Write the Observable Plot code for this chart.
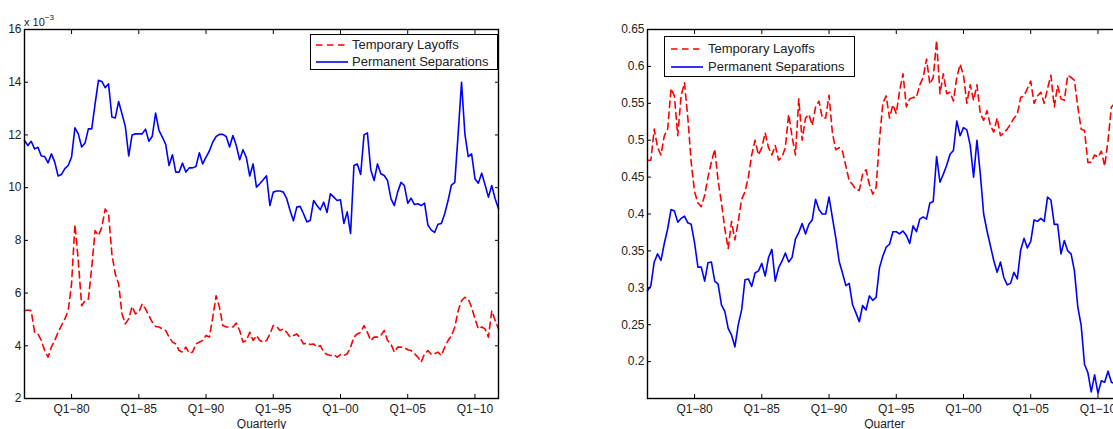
<!DOCTYPE html>
<html>
<head>
<meta charset="utf-8">
<script src="https://cdn.jsdelivr.net/npm/d3@7"></script>
<script src="https://cdn.jsdelivr.net/npm/@observablehq/plot@0.6"></script>
<style>
  html, body { margin: 0; padding: 0; background: #fff; overflow: hidden; }
  #page { position: relative; width: 1113px; height: 429px; overflow: hidden;
          font-family: "Liberation Sans", Arial, Helvetica, sans-serif; color: #222; }
  .panel { position: absolute; top: 0; }
  .legend { position: absolute; background: #fff; border: 1px solid #000; box-sizing: border-box;
            font-size: 13px; color: #222; }
  .legend .row { position: absolute; left: 0; height: 16px; line-height: 16px; white-space: nowrap; }
  .legend svg { position: absolute; top: 0; }
  .legend span { position: absolute; top: 0; }
  .exp { position: absolute; left: 24px; top: 12px; font-size: 11px; line-height: 13px; color: #222; }
  .exp sup { font-size: 8px; position: relative; top: -1px; }
</style>
</head>
<body>
<div id="page"></div>
<script>
// Quarterly series, first observation 1976 Q3, one value per quarter.
const firstYear = 1976;
const firstQuarter = 3;

// Left panel: flow rates (x 10^-3)
const tempLayoffsRate = [
  5.33, 5.36, 5.33, 4.51, 4.45, 4.2, 3.82, 3.57, 3.95, 4.2,
  4.51, 4.77, 5.02, 5.33, 6.35, 8.6, 7.23, 5.52, 5.71, 5.77,
  6.98, 8.37, 8.18, 8.5, 9.19, 9.0, 7.48, 6.72, 6.35, 5.21,
  4.83, 5.02, 5.49, 5.21, 5.27, 5.59, 5.4, 5.15, 4.9, 4.73,
  4.71, 4.64, 4.58, 4.33, 4.14, 4.07, 3.82, 3.76, 3.95, 3.72,
  3.76, 4.07, 4.14, 4.2, 4.39, 4.33, 5.08, 5.9, 5.46, 4.77,
  4.71, 4.71, 4.71, 4.86, 4.58, 4.14, 4.2, 4.51, 4.2, 4.39,
  4.2, 4.14, 4.2, 4.45, 4.77, 4.73, 4.58, 4.64, 4.51, 4.33,
  4.39, 4.45, 4.3, 4.07, 4.1, 4.05, 4.07, 3.95, 4.01, 3.76,
  3.67, 3.63, 3.67, 3.57, 3.67, 3.63, 3.7, 3.95, 4.33, 4.45,
  4.51, 4.77, 4.51, 4.2, 4.33, 4.33, 4.39, 4.58, 4.2, 4.07,
  3.76, 3.95, 3.95, 3.93, 3.85, 3.82, 3.7, 3.57, 3.38, 3.7,
  3.82, 3.67, 3.7, 3.76, 3.63, 3.95, 4.2, 4.39, 4.71, 5.33,
  5.71, 5.84, 5.77, 5.46, 5.02, 4.64, 4.71, 4.64, 4.33, 5.33,
  4.96, 4.64
];
const permSeparationsRate = [
  11.79, 11.6, 11.76, 11.47, 11.53, 11.2, 11.18, 10.94, 11.28, 10.97,
  10.44, 10.5, 10.72, 10.84, 11.16, 12.27, 12.04, 11.54, 11.69, 12.23,
  12.23, 13.18, 14.07, 14.03, 13.79, 13.94, 12.68, 12.64, 13.27, 12.8,
  12.32, 11.2, 12.0, 12.04, 12.04, 12.04, 12.22, 11.76, 11.95, 12.83,
  12.17, 11.92, 11.64, 10.84, 11.25, 10.59, 10.59, 10.93, 10.59, 10.75,
  10.75, 10.8, 11.32, 10.9, 11.16, 11.39, 11.73, 11.94, 12.02, 12.02,
  11.94, 11.54, 11.98, 11.6, 11.06, 11.44, 11.14, 10.44, 10.9, 10.02,
  10.15, 10.3, 10.45, 9.32, 9.83, 9.87, 9.87, 9.83, 9.58, 9.13,
  8.74, 9.26, 9.29, 9.01, 8.7, 8.76, 9.51, 9.32, 9.16, 9.45,
  9.06, 9.77, 9.64, 9.51, 9.54, 8.64, 9.08, 8.26, 10.84, 10.9,
  10.5, 12.0, 12.08, 10.68, 10.27, 10.9, 10.53, 10.46, 10.27, 9.58,
  9.32, 9.83, 10.2, 10.08, 9.41, 9.6, 9.36, 9.39, 9.32, 9.41,
  8.58, 8.39, 8.3, 8.61, 8.64, 9.01, 9.51, 10.1, 10.2, 12.04,
  14.0, 12.04, 11.18, 11.28, 10.34, 10.17, 10.55, 10.11, 9.64, 10.08,
  9.58, 9.2
];

// Right panel: shares
const tempLayoffsShare = [
  0.4725, 0.473, 0.515, 0.49, 0.48, 0.506, 0.515, 0.57, 0.56, 0.506,
  0.56, 0.578, 0.53, 0.47, 0.43, 0.415, 0.41, 0.425, 0.45, 0.47,
  0.488, 0.445, 0.415, 0.38, 0.353, 0.39, 0.365, 0.39, 0.42, 0.43,
  0.45, 0.48, 0.5, 0.48, 0.49, 0.51, 0.49, 0.48, 0.493, 0.473,
  0.477, 0.49, 0.535, 0.505, 0.48, 0.556, 0.5, 0.53, 0.535, 0.52,
  0.545, 0.553, 0.53, 0.53, 0.561, 0.51, 0.487, 0.49, 0.485, 0.465,
  0.445, 0.44, 0.433, 0.432, 0.454, 0.46, 0.44, 0.427, 0.436, 0.5,
  0.55, 0.56, 0.53, 0.548, 0.536, 0.567, 0.59, 0.545, 0.556, 0.558,
  0.558, 0.575, 0.585, 0.61, 0.576, 0.585, 0.635, 0.563, 0.59, 0.563,
  0.565, 0.553, 0.585, 0.603, 0.588, 0.55, 0.575, 0.554, 0.575, 0.536,
  0.527, 0.54, 0.52, 0.511, 0.53, 0.506, 0.51, 0.515, 0.522, 0.53,
  0.535, 0.558, 0.56, 0.57, 0.58, 0.55, 0.56, 0.565, 0.55, 0.57,
  0.588, 0.545, 0.574, 0.556, 0.554, 0.588, 0.585, 0.581, 0.545, 0.515,
  0.513, 0.47, 0.47, 0.48, 0.477, 0.485, 0.465, 0.5, 0.545, 0.55
];
const permSeparationsShare = [
  0.296, 0.303, 0.335, 0.346, 0.337, 0.36, 0.38, 0.406, 0.404, 0.389,
  0.394, 0.397, 0.388, 0.386, 0.361, 0.328, 0.328, 0.309, 0.334, 0.335,
  0.309, 0.305, 0.277, 0.268, 0.245, 0.236, 0.22, 0.25, 0.27, 0.311,
  0.312, 0.302, 0.32, 0.323, 0.333, 0.316, 0.341, 0.352, 0.309, 0.327,
  0.336, 0.347, 0.335, 0.341, 0.366, 0.375, 0.387, 0.373, 0.386, 0.392,
  0.42, 0.406, 0.4, 0.4, 0.423, 0.395, 0.368, 0.336, 0.32, 0.303,
  0.306, 0.277, 0.266, 0.254, 0.276, 0.27, 0.289, 0.283, 0.287, 0.327,
  0.343, 0.355, 0.359, 0.376, 0.376, 0.373, 0.377, 0.371, 0.36, 0.384,
  0.376, 0.393, 0.396, 0.393, 0.415, 0.417, 0.478, 0.443, 0.454, 0.466,
  0.481, 0.486, 0.526, 0.506, 0.517, 0.514, 0.493, 0.45, 0.5, 0.454,
  0.4, 0.377, 0.357, 0.337, 0.321, 0.335, 0.314, 0.304, 0.306, 0.321,
  0.312, 0.351, 0.367, 0.354, 0.363, 0.392, 0.39, 0.394, 0.39, 0.423,
  0.419, 0.386, 0.386, 0.346, 0.364, 0.35, 0.346, 0.323, 0.274, 0.249,
  0.196, 0.185, 0.159, 0.182, 0.157, 0.174, 0.172, 0.187, 0.172, 0.17
];

// Axis ticks
const tickYears = [1980, 1985, 1990, 1995, 2000, 2005, 2010];
const tickLabels = ["Q1\u221280", "Q1\u221285", "Q1\u221290", "Q1\u221295", "Q1\u221200", "Q1\u221205", "Q1\u221210"];
const rateTicks = [2, 4, 6, 8, 10, 12, 14, 16];
const shareTicks = [0.2, 0.25, 0.3, 0.35, 0.4, 0.45, 0.5, 0.55, 0.6, 0.65];
const shareTickLabels = ["0.2", "0.25", "0.3", "0.35", "0.4", "0.45", "0.5", "0.55", "0.6", "0.65"];

const seriesNames = ["Temporary Layoffs", "Permanent Separations"];
const RED = "#ff0000", BLUE = "#0000ff", DASH = "6.5,4.5";

// decimal-year position of each quarter
const quarterTime = (i) => firstYear + (firstQuarter - 1) / 4 + i / 4;
const toRows = (values) => values.map((v, i) => ({t: quarterTime(i), v}));
const xLabel = (d) => tickLabels[tickYears.indexOf(d)];

const FONT = '"Liberation Sans", Arial, Helvetica, sans-serif';

function panel({red, blue, yDomain, yTicks, yFormat, xTitle, marginLeft, width}) {
  return Plot.plot({
    width, height: 429,
    marginLeft, marginRight: width - marginLeft - 474, marginTop: 29, marginBottom: 31,
    style: {fontFamily: FONT, fontSize: "12px", color: "#222", background: "transparent", overflow: "visible"},
    x: {domain: [1976.5, 2011.75]},
    y: {domain: yDomain},
    marks: [
      Plot.lineY(toRows(red), {x: "t", y: "v", stroke: RED, strokeWidth: 1.6, strokeDasharray: DASH}),
      Plot.lineY(toRows(blue), {x: "t", y: "v", stroke: BLUE, strokeWidth: 1.6}),
      // labels
      Plot.axisX({ticks: tickYears, tickFormat: xLabel, tickSize: 0, tickPadding: 6,
                  label: xTitle, labelAnchor: "center", labelOffset: 29, labelArrow: "none", fontSize: 12}),
      Plot.axisY({ticks: yTicks, tickFormat: yFormat, tickSize: 0, tickPadding: 3, label: null, fontSize: 12}),
      // inward tick marks on all four sides
      Plot.axisX({ticks: tickYears, tickSize: -4, text: null, label: null, stroke: "#000"}),
      Plot.axisX({anchor: "top", ticks: tickYears, tickSize: -4, text: null, label: null, stroke: "#000"}),
      Plot.axisY({ticks: yTicks, tickSize: -4, text: null, label: null, stroke: "#000"}),
      Plot.axisY({anchor: "right", ticks: yTicks, tickSize: -4, text: null, label: null, stroke: "#000"}),
      Plot.frame({stroke: "#000", strokeWidth: 1.4})
    ]
  });
}

function legend({left, top, width, height, rowTops, sampleLeft, textLeft}) {
  const box = document.createElement("div");
  box.className = "legend";
  Object.assign(box.style, {left: left + "px", top: top + "px", width: width + "px", height: height + "px"});
  seriesNames.forEach((name, i) => {
    const row = document.createElement("div");
    row.className = "row";
    row.style.top = rowTops[i] + "px";
    row.style.width = width + "px";
    const dash = i === 0 ? `stroke-dasharray="${DASH}"` : "";
    row.innerHTML =
      `<svg width="34" height="16" style="left:${sampleLeft}px"><line x1="0" x2="32" y1="8" y2="8" stroke="${i === 0 ? RED : BLUE}" stroke-width="1.6" ${dash}/></svg>` +
      `<span style="left:${textLeft}px">${name}</span>`;
    box.appendChild(row);
  });
  return box;
}

const page = document.getElementById("page");

const leftChart = panel({
  red: tempLayoffsRate, blue: permSeparationsRate,
  yDomain: [2, 16], yTicks: rateTicks, yFormat: (d) => String(d),
  xTitle: "Quarterly", marginLeft: 24, width: 560
});
leftChart.classList.add("panel");
leftChart.style.left = "0px";
page.appendChild(leftChart);

const rightChart = panel({
  red: tempLayoffsShare, blue: permSeparationsShare,
  yDomain: [0.15, 0.65], yTicks: shareTicks, yFormat: (d) => shareTickLabels[shareTicks.indexOf(d)],
  xTitle: "Quarter", marginLeft: 87, width: 581
});
rightChart.classList.add("panel");
rightChart.style.left = "560px";
page.appendChild(rightChart);

// exponent note for the left panel
const exp = document.createElement("div");
exp.className = "exp";
exp.innerHTML = "x 10<sup>\u22123</sup>";
page.appendChild(exp);

page.appendChild(legend({left: 310, top: 34, width: 188, height: 36, rowTops: [2, 19], sampleLeft: 5, textLeft: 41}));
page.appendChild(legend({left: 664, top: 36, width: 191, height: 41, rowTops: [4, 22], sampleLeft: 6, textLeft: 43}));
</script>
</body>
</html>
